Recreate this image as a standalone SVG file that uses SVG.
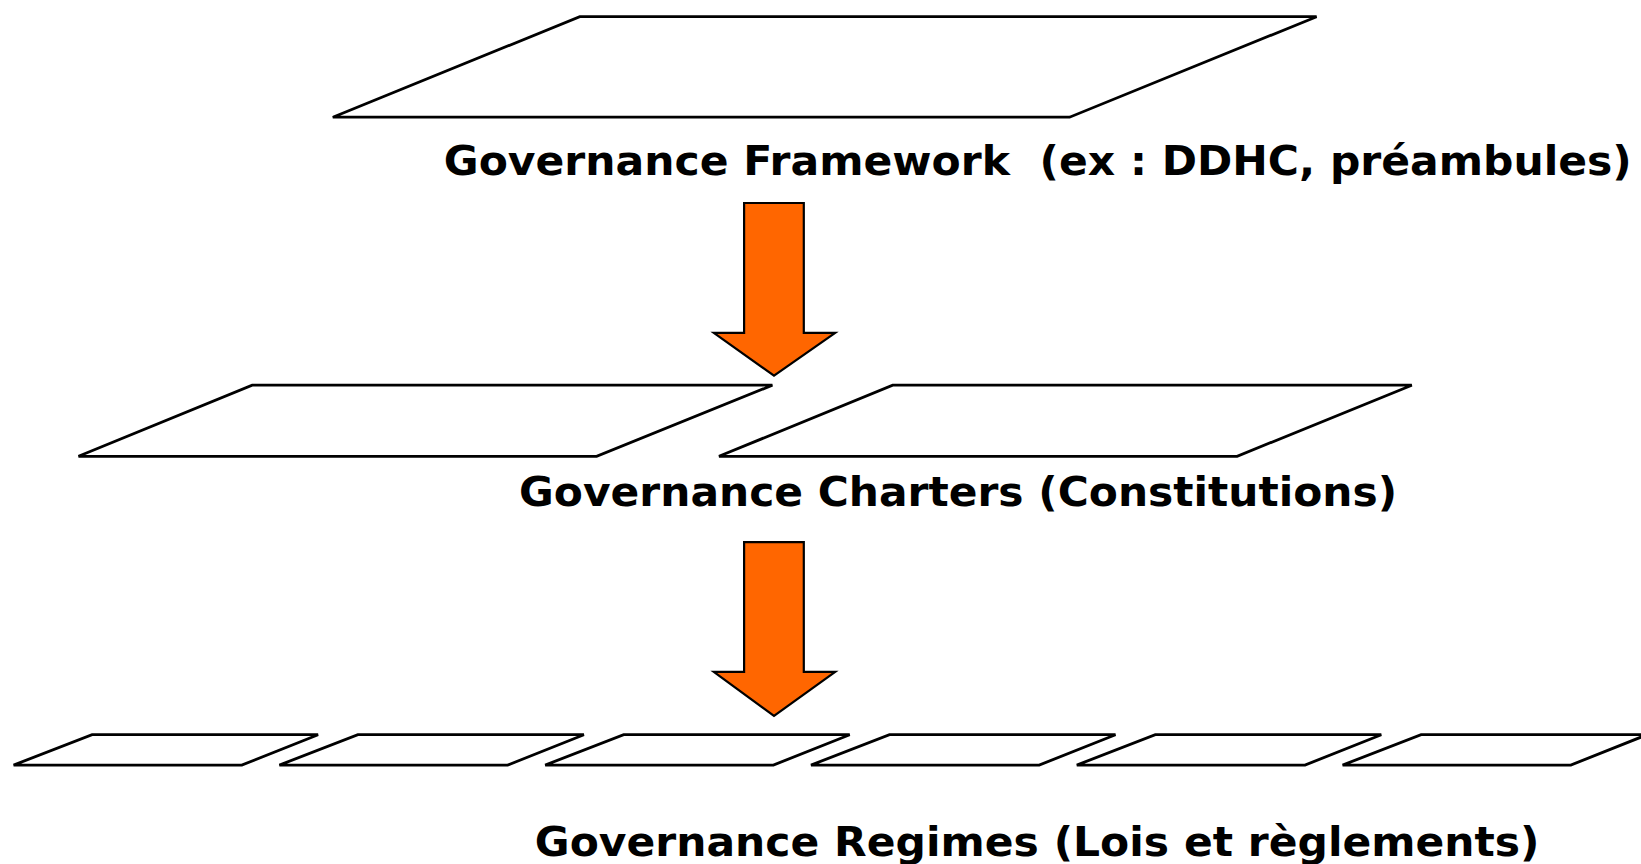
<svg xmlns="http://www.w3.org/2000/svg" width="1641" height="864" viewBox="0 0 1641 864">
<style>
.plane{fill:#ffffff;stroke:#000000;stroke-width:2.8;stroke-linejoin:miter}
.arrow{fill:#FF6600;stroke:#000000;stroke-width:2.2;stroke-linejoin:miter}
.lbl{font-family:"DejaVu Sans",Verdana,sans-serif;font-weight:bold;font-size:41px;fill:#000000;white-space:pre}
</style>
<rect width="1641" height="864" fill="#ffffff"/>
<g id="framework">
<polygon class="plane" points="579.8,16.7 1316.6,16.7 1069.6,117.2 332.8,117.2"/>
<text class="lbl" x="443.8" y="174.8" textLength="1188" lengthAdjust="spacingAndGlyphs" xml:space="preserve">Governance Framework  (ex : DDHC, préambules)</text>
</g>
<g id="charters">
<polygon class="plane" points="252.2,385.2 772.4,385.2 596.6,456.3 78.5,456.3"/>
<polygon class="plane" points="892.7,385.2 1411.8,385.2 1237.1,456.3 719,456.3"/>
<text class="lbl" x="519.1" y="505.5" textLength="878" lengthAdjust="spacingAndGlyphs">Governance Charters (Constitutions)</text>
</g>
<g id="regimes">
<polygon class="plane" points="92.1,734.7 318.1,734.7 241.8,765.1 13.6,765.1"/>
<polygon class="plane" points="357.9,734.7 583.9,734.7 507.6,765.1 279.4,765.1"/>
<polygon class="plane" points="623.7,734.7 849.7,734.7 773.4,765.1 545.2,765.1"/>
<polygon class="plane" points="889.5,734.7 1115.5,734.7 1039.2,765.1 811,765.1"/>
<polygon class="plane" points="1155.3,734.7 1381.3,734.7 1305,765.1 1076.8,765.1"/>
<polygon class="plane" points="1421.1,734.7 1647.1,734.7 1570.8,765.1 1342.6,765.1"/>
<text class="lbl" x="534.8" y="856" textLength="1004.7" lengthAdjust="spacingAndGlyphs">Governance Regimes (Lois et règlements)</text>
</g>
<g id="connectors">
<polygon class="arrow" points="744.1,203 803.8,203 803.8,332.8 835.2,332.8 774,375.7 713.8,332.8 744.1,332.8"/>
<polygon class="arrow" points="744.1,542.1 803.8,542.1 803.8,671.9 835.2,671.9 774,715.9 713.8,671.9 744.1,671.9"/>
</g>
</svg>
